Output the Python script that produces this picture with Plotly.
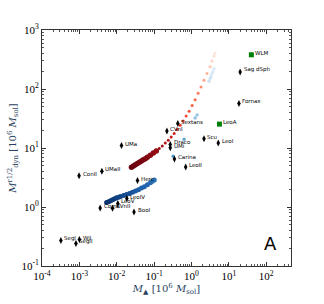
import numpy as np
import plotly.graph_objects as go

# --- galaxies (stellar mass [1e6 Msol], dynamical mass within r1/2 [1e6 Msol]) ---
dsph_names = ["Sag dSph", "Fornax", "Scu", "LeoI", "Sextans", "CVnI", "Draco", "UMi",
              "Carina", "LeoII", "UMa", "Herc", "ConII", "UMaII", "LeoIV", "LeoV",
              "Coma", "CVnII", "BooI", "SegI", "Wil", "SegII"]
dsph_mstar = [20, 18.6, 2.16, 5.2, 0.43, 0.22, 0.27, 0.27,
              0.35, 0.70, 0.0134, 0.036, 0.00098, 0.004, 0.0186, 0.0107,
              0.0036, 0.0077, 0.029, 0.00032, 0.001, 0.00081]
dsph_mdyn = [195, 57, 14.4, 12.2, 26, 19.5, 11.5, 10.1,
             6.5, 4.75, 11, 2.8, 3.4, 4.05, 1.39, 1.15,
             0.96, 0.95, 0.82, 0.27, 0.28, 0.24]

dirr_names = ["WLM", "LeoA"]
dirr_mstar = [40, 5.6]
dirr_mdyn = [380, 25.4]

# --- model track (red) ---
red_mstar = [0.0248, 0.0280, 0.0316, 0.0357, 0.0404, 0.0457, 0.0516, 0.0583, 0.0659,
             0.0792, 0.0953, 0.1146, 0.1375, 0.165, 0.199, 0.239, 0.286, 0.344,
             0.414, 0.498, 0.598, 0.718, 0.863, 1.04, 1.25, 1.50, 1.80, 2.16,
             2.60, 3.13, 3.53, 3.99, 4.25]
red_mdyn = [4.70, 4.94, 5.19, 5.47, 5.72, 6.01, 6.31, 6.60, 6.96,
            7.54, 8.19, 8.93, 9.81, 10.8, 12.1, 13.5, 15.4, 17.6,
            20.5, 24.3, 28.8, 34.7, 42.0, 52.6, 66.0, 84.4, 108, 141,
            183, 238, 299, 361, 404]

# --- model track (blue) ---
blue_mstar = [0.00536, 0.00605, 0.00684, 0.00773, 0.00873, 0.00988, 0.0112, 0.0126,
              0.0152, 0.0182, 0.0219, 0.0263, 0.0316, 0.0380, 0.0457, 0.0548, 0.0659,
              0.0792, 0.0895, 0.101, 0.324, 0.635, 1.25, 1.41, 2.94, 3.13, 3.32,
              3.53, 3.75, 3.99]
blue_mdyn = [1.19, 1.23, 1.28, 1.33, 1.38, 1.43, 1.47, 1.51,
             1.57, 1.63, 1.70, 1.77, 1.86, 1.97, 2.09, 2.21, 2.38,
             2.57, 2.72, 2.88, 7.26, 14.1, 32.2, 36.1, 135, 151, 163,
             183, 197, 221]

x_tick_exps = [-4, -3, -2, -1, 0, 1, 2]
y_tick_exps = [-1, 0, 1, 2, 3]
x_range = [1e-4, 460]
y_range = [1e-1, 1e3]

fig = go.Figure()

red_scale = [[0, "#67000d"], [0.12, "#8b0a14"], [0.25, "#c4161c"], [0.4, "#ef3b2c"],
             [0.6, "#fb6a4a"], [0.8, "#fcae91"], [1, "#fee5d9"]]
blue_scale = [[0, "#08306b"], [0.1, "#1f5fa8"], [0.3, "#4292c6"], [0.5, "#6baed6"],
              [0.75, "#b5d3ec"], [1, "#deebf7"]]

red_sizes = [5.5 if v < 9 else 3 for v in red_mdyn]
blue_sizes = [5 if v < 3 else 3.5 for v in blue_mdyn]

fig.add_trace(go.Scatter(
    x=red_mstar, y=red_mdyn, mode="markers",
    marker=dict(size=red_sizes, color=np.log10(red_mdyn), colorscale=red_scale,
                opacity=1, line=dict(width=0)),
    hoverinfo="skip", showlegend=False))
fig.add_trace(go.Scatter(
    x=blue_mstar, y=blue_mdyn, mode="markers",
    marker=dict(size=blue_sizes, color=np.log10(blue_mdyn), colorscale=blue_scale,
                cmin=np.log10(1.19), cmax=np.log10(221), opacity=1, line=dict(width=0)),
    hoverinfo="skip", showlegend=False))

fig.add_trace(go.Scatter(
    x=dsph_mstar, y=dsph_mdyn, mode="markers",
    marker=dict(symbol="diamond-tall", size=5, color="black", line=dict(width=0)),
    showlegend=False))
fig.add_trace(go.Scatter(
    x=dirr_mstar, y=dirr_mdyn, mode="markers",
    marker=dict(symbol="square", size=5, color="#008000", line=dict(width=0)),
    showlegend=False))

for n, xv, yv in list(zip(dsph_names, dsph_mstar, dsph_mdyn)) + list(zip(dirr_names, dirr_mstar, dirr_mdyn)):
    fig.add_annotation(x=np.log10(xv), y=np.log10(yv), text=n, showarrow=False,
                       xanchor="left", yanchor="middle", xshift=1.5, yshift=2,
                       font=dict(family="DejaVu Sans", size=5.5, color="black"))

fig.add_annotation(x=0.916, y=0.095, xref="paper", yref="paper", text="A",
                   showarrow=False, xanchor="center", yanchor="middle",
                   font=dict(family="DejaVu Sans", size=18, color="black"))

axis_common = dict(type="log", showgrid=False, zeroline=False, showline=True,
                   linecolor="#333333", linewidth=1, mirror="allticks",
                   ticks="inside", ticklen=4, tickcolor="#333333",
                   minor=dict(ticks="inside", ticklen=2, tickcolor="#555555", dtick="D1"),
                   tickfont=dict(family="Liberation Serif", size=11, color="black"))

fig.update_xaxes(**axis_common, range=[np.log10(x_range[0]), np.log10(x_range[1])],
                 tickmode="array", tickvals=[10.0 ** e for e in x_tick_exps],
                 ticktext=["10<sup>%d</sup>" % e for e in x_tick_exps],
                 title=dict(text="<i>M</i><sub>▲</sub> [10<sup>6</sup> <i>M</i><sub>sol</sub>]",
                            font=dict(family="DejaVu Serif", size=10), standoff=3))
fig.update_yaxes(**axis_common, range=[np.log10(y_range[0]), np.log10(y_range[1])],
                 tickmode="array", tickvals=[10.0 ** e for e in y_tick_exps],
                 ticktext=["10<sup>%d</sup>" % e for e in y_tick_exps],
                 title=dict(text="<i>M</i><sup>r1/2</sup><sub>dyn</sub> [10<sup>6</sup> <i>M</i><sub>sol</sub>]",
                            font=dict(family="DejaVu Serif", size=10), standoff=2))

fig.update_layout(width=324, height=304, autosize=False,
                  margin=dict(l=41, r=33, t=30, b=31),
                  paper_bgcolor="white", plot_bgcolor="white")

fig.write_html("out.html", config={"displayModeBar": False},
               post_script="document.body.style.margin='0';")
